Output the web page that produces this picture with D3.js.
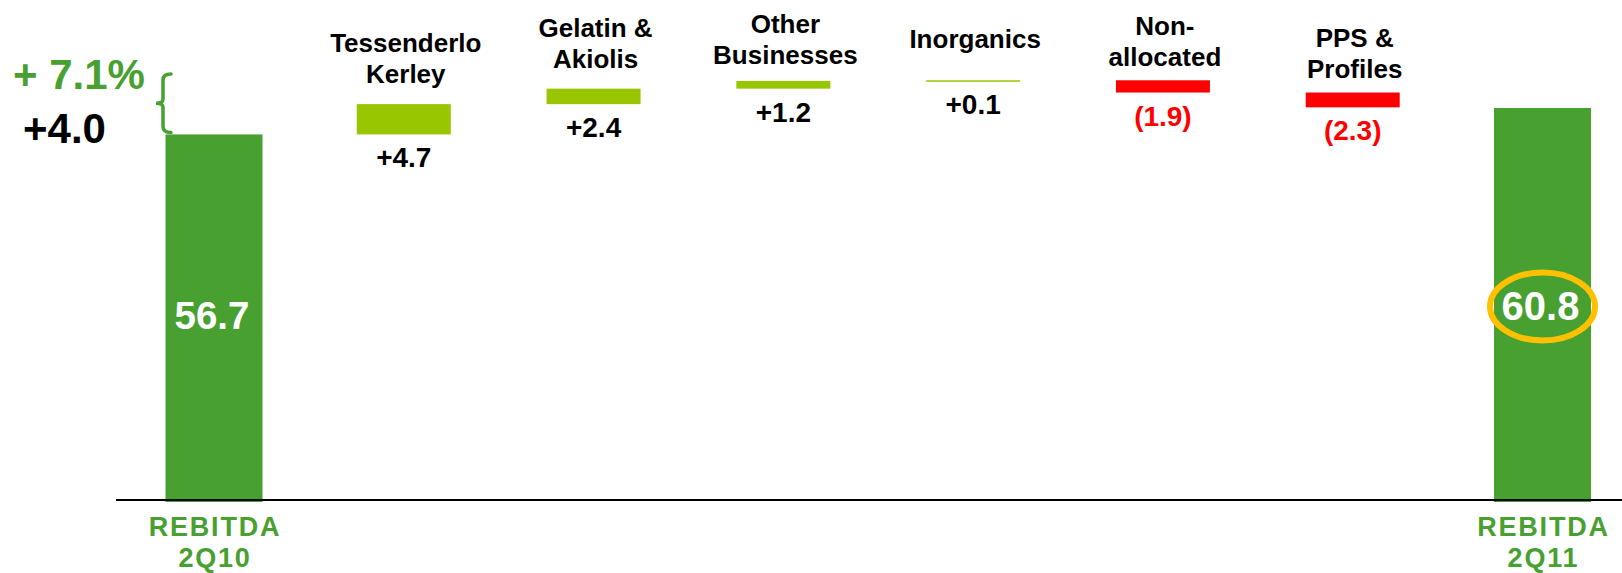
<!DOCTYPE html>
<html>
<head>
<meta charset="utf-8">
<script src="https://cdn.jsdelivr.net/npm/d3@7"></script>
<style>
  html, body { margin: 0; padding: 0; background: #fff; }
  svg { display: block; font-family: "Liberation Sans", Arial, Helvetica, sans-serif; font-weight: bold; }
</style>
</head>
<body>
<svg id="chart" width="1622" height="573"></svg>
<script>
// ---- data ----
const categories = ["REBITDA 2Q10", "Tessenderlo Kerley", "Gelatin & Akiolis", "Other Businesses", "Inorganics", "Non-allocated", "PPS & Profiles", "REBITDA 2Q11"];
const labelLines = [["REBITDA", "2Q10"], ["Tessenderlo", "Kerley"], ["Gelatin &", "Akiolis"], ["Other", "Businesses"], ["Inorganics"], ["Non-", "allocated"], ["PPS &", "Profiles"], ["REBITDA", "2Q11"]];
const kinds = ["total", "delta", "delta", "delta", "delta", "delta", "delta", "total"];
const values = [56.7, 4.7, 2.4, 1.2, 0.1, -1.9, -2.3, 60.8];
const valueLabels = ["56.7", "+4.7", "+2.4", "+1.2", "+0.1", "(1.9)", "(2.3)", "60.8"];
const changeAbsLabel = "+4.0";
const changePctLabel = "+ 7.1%";

// ---- layout / style (not data) ----
const C_TOTAL = "#47A02F", C_POS = "#98C600", C_NEG = "#FF0000", C_GOLD = "#FFC000";
const labelGap = [0, 21, 21, 17, 32, 14.5, 14.5, 0]; // gap between category label and bar top

const svg = d3.select("#chart");
const x = d3.scalePoint().domain(categories).range([214, 1542.5]);
const y = d3.scaleLinear().domain([0, 60.8]).range([500, 108]);

// waterfall geometry
let running = 0;
const bars = categories.map((c, i) => {
  let y0, y1;
  if (kinds[i] === "total") { y0 = 0; y1 = values[i]; running = values[i]; }
  else { y0 = running; y1 = running + values[i]; running = y1; }
  return { c, i, kind: kinds[i], v: values[i], lo: Math.min(y0, y1), hi: Math.max(y0, y1) };
});

svg.append("g").selectAll("rect.bar").data(bars).join("rect")
  .attr("class", "bar")
  .attr("x", d => x(d.c) - (d.kind === "total" ? 48.5 : 47))
  .attr("width", d => d.kind === "total" ? 97 : 94)
  .attr("y", d => y(d.hi))
  .attr("height", d => Math.max(1.5, y(d.lo) - y(d.hi) + (d.kind === "total" ? 2 : 0)))
  .attr("fill", d => d.kind === "total" ? C_TOTAL : (d.v >= 0 ? C_POS : C_NEG));

// baseline axis
const axis = d3.axisBottom(x).tickSize(0).tickFormat("");
svg.append("g").attr("transform", `translate(0,${y(0)})`).call(axis)
  .call(s => s.select(".domain").attr("d", `M116,0H1622`).attr("stroke", "#000").attr("stroke-width", 2));

// category labels above delta bars
const deltas = bars.filter(d => d.kind === "delta");
deltas.forEach(d => {
  const lines = labelLines[d.i];
  const lastBase = y(d.hi) - labelGap[d.i];
  const t = svg.append("text").attr("text-anchor", "middle").attr("font-size", 26).attr("fill", "#000");
  lines.forEach((ln, k) => {
    t.append("tspan").attr("x", x(d.c) + 2).attr("y", lastBase - (lines.length - 1 - k) * 31).text(ln);
  });
});

// value labels below delta bars
svg.selectAll("text.val").data(deltas).join("text")
  .attr("class", "val")
  .attr("text-anchor", "middle").attr("font-size", 28)
  .attr("x", d => x(d.c))
  .attr("y", d => y(d.lo) + 33)
  .attr("fill", d => d.v >= 0 ? "#000" : C_NEG)
  .text(d => valueLabels[d.i]);

// total bar labels
const totals = bars.filter(d => d.kind === "total");
svg.selectAll("text.tot").data(totals).join("text")
  .attr("class", "tot")
  .attr("text-anchor", "middle").attr("font-size", (d, k) => k === 0 ? 38.5 : 40).attr("fill", "#fff")
  .attr("x", d => x(d.c) - 2)
  .attr("y", (d, k) => k === 0 ? 329 : 320)
  .text(d => valueLabels[d.i]);

// gold ellipse around final value
const last = totals[1];
svg.append("ellipse").attr("cx", x(last.c)).attr("cy", 306.5).attr("rx", 52.5).attr("ry", 34)
  .attr("fill", "none").attr("stroke", C_GOLD).attr("stroke-width", 6);

// bottom category labels for totals
totals.forEach(d => {
  const t = svg.append("text").attr("text-anchor", "middle").attr("font-size", 27)
    .attr("fill", C_TOTAL).attr("letter-spacing", 1.8);
  labelLines[d.i].forEach((ln, k) => {
    t.append("tspan").attr("x", x(d.c) + 1).attr("y", 536 + k * 31).text(ln);
  });
});

// change annotation with brace
const bx = x(categories[0]) - 51;
const bTop = 74, bBot = y(values[0]) - 2, bMid = (bTop + bBot) / 2;
svg.append("path")
  .attr("d", `M${bx + 8},${bTop} Q${bx},${bTop} ${bx},${bTop + 6} L${bx},${bMid - 4} Q${bx},${bMid} ${bx - 7},${bMid} Q${bx},${bMid} ${bx},${bMid + 4} L${bx},${bBot - 6} Q${bx},${bBot} ${bx + 8},${bBot}`)
  .attr("fill", "none").attr("stroke", C_TOTAL).attr("stroke-width", 3.5).attr("stroke-linecap", "round");

svg.append("text").attr("x", 13).attr("y", 89).attr("font-size", 42).attr("fill", C_TOTAL).text(changePctLabel);
svg.append("text").attr("x", 23).attr("y", 143).attr("font-size", 42).attr("fill", "#000").text(changeAbsLabel);
</script>
</body>
</html>
